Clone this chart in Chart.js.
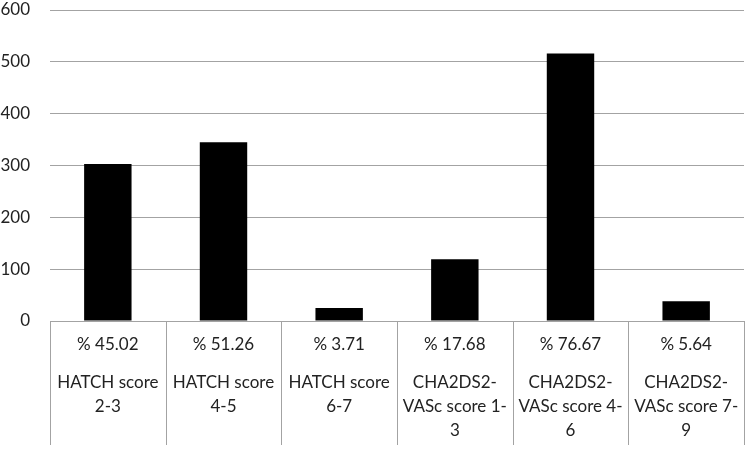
<!DOCTYPE html>
<html>
<head>
<meta charset="utf-8">
<script src="https://cdn.jsdelivr.net/npm/chart.js@4"></script>
<style>
  html, body { margin: 0; padding: 0; background: #ffffff; }
  #wrap { width: 750px; height: 450px; }
</style>
</head>
<body>
<div id="wrap"><canvas id="c" width="750" height="450"></canvas></div>
<script>
// ---- data ----
const percentLabels = ["% 45.02", "% 51.26", "% 3.71", "% 17.68", "% 76.67", "% 5.64"];
const categoryNames = [
  ["HATCH score", "2-3"],
  ["HATCH score", "4-5"],
  ["HATCH score", "6-7"],
  ["CHA2DS2-", "VASc score 1-", "3"],
  ["CHA2DS2-", "VASc score 4-", "6"],
  ["CHA2DS2-", "VASc score 7-", "9"]
];
const counts = [303, 345, 25, 119, 516, 38];
const yTicks = [0, 100, 200, 300, 400, 500, 600];

const gridColor = '#a3a3a3';
const textColor = '#222222';
const fontFamily = 'Lato, "Open Sans", sans-serif';

const separators = {
  id: 'separators',
  afterDraw(chart) {
    const xs = chart.scales.x;
    const ca = chart.chartArea;
    const step = xs.getPixelForValue(1) - xs.getPixelForValue(0);
    const ctx = chart.ctx;
    ctx.save();
    ctx.strokeStyle = gridColor;
    ctx.lineWidth = 1;
    for (let i = 0; i <= counts.length; i++) {
      const x = Math.round(xs.getPixelForValue(0) - step / 2 + i * step) + 0.5;
      ctx.beginPath();
      ctx.moveTo(x, ca.bottom);
      ctx.lineTo(x, chart.scales.x2.bottom);
      ctx.stroke();
    }
    ctx.restore();
  }
};

new Chart(document.getElementById('c'), {
  type: 'bar',
  data: {
    labels: percentLabels,
    datasets: [{
      data: counts,
      backgroundColor: '#000000',
      borderWidth: 0,
      categoryPercentage: 1.0,
      barPercentage: 0.41
    }]
  },
  options: {
    responsive: false,
    animation: false,
    layout: { padding: { top: 10, right: 6, bottom: 5, left: 0 } },
    plugins: { legend: { display: false }, tooltip: { enabled: false } },
    scales: {
      y: {
        min: 0, max: 600,
        afterBuildTicks: (s) => { s.ticks = yTicks.map(v => ({ value: v })); },
        afterFit: (s) => { s.width = 50; s.paddingTop = 0; s.paddingBottom = 0; },
        grid: { color: gridColor, lineWidth: 1, drawTicks: false },
        border: { display: false },
        ticks: { padding: 20, color: textColor, font: { family: fontFamily, size: 17 } }
      },
      x: {
        type: 'category',
        offset: true,
        weight: 0,
        afterFit: (s) => { s.height = 48; },
        grid: { display: false, drawTicks: false },
        border: { display: true, color: gridColor },
        ticks: { padding: 12, color: textColor, font: { family: fontFamily, size: 17, lineHeight: 24 / 17 }, maxRotation: 0, autoSkip: false }
      },
      x2: {
        type: 'category',
        position: 'bottom',
        labels: categoryNames,
        offset: true,
        weight: 1,
        afterFit: (s) => { s.height = 76; },
        grid: { display: false, drawTicks: false },
        border: { display: false },
        ticks: { padding: 2, color: textColor, font: { family: fontFamily, size: 17, lineHeight: 24 / 17 }, maxRotation: 0, autoSkip: false }
      }
    }
  },
  plugins: [separators]
});
</script>
</body>
</html>
